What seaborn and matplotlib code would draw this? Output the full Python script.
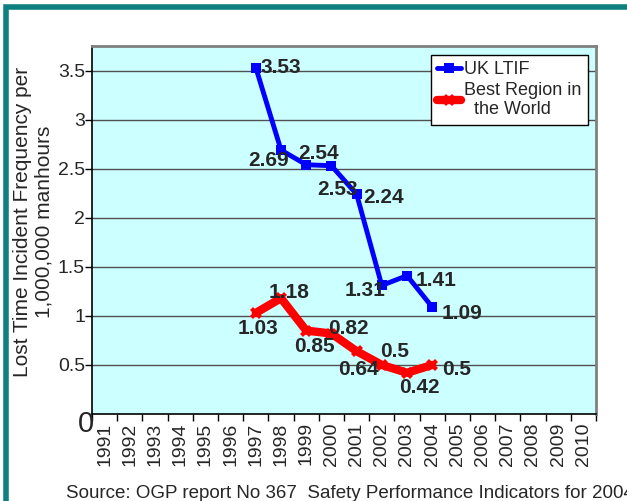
import matplotlib
matplotlib.use('Agg')
import matplotlib.pyplot as plt
import seaborn as sns
import pandas as pd
from matplotlib.patches import Rectangle

years = [str(y) for y in range(1991, 2011)]
uk_years = ['1997', '1998', '1999', '2000', '2001', '2002', '2003', '2004']
uk_ltif = [3.53, 2.69, 2.54, 2.53, 2.24, 1.31, 1.41, 1.09]
best_region = [1.03, 1.18, 0.85, 0.82, 0.64, 0.5, 0.42, 0.5]

# label offsets in pixels (dx, dy), dy measured downward
uk_offsets = [(25, 0), (-12, 10), (12, -11), (6, 24), (27, 3), (-17, 5), (29, 5), (30, 6)]
best_offsets = [(2, 16), (8, -6), (8, 16), (17, -5), (2, 18), (13, -13), (12, 15), (24, 5)]

sns.set_style('white')
plt.rcParams['font.family'] = ['Liberation Sans', 'DejaVu Sans']

fig = plt.figure(figsize=(6.27, 5.01), dpi=100)
ax = fig.add_axes([92 / 627, 1 - 414 / 501, (596 - 92) / 627, (414 - 46) / 501])
ax.set_facecolor('#ccffff')

pos = {y: i for i, y in enumerate(years)}
df = pd.DataFrame({'x': [pos[y] for y in uk_years], 'uk': uk_ltif, 'best': best_region})

sns.lineplot(data=df, x='x', y='uk', ax=ax, color='#0000ff', lw=3.5,
             marker='s', markersize=7, markeredgewidth=0, label='UK LTIF', zorder=4)
sns.lineplot(data=df, x='x', y='best', ax=ax, color='#ff0000', lw=6,
             marker='X', markersize=9, markeredgewidth=0,
             label='Best Region in\n  the World', zorder=3)

for xv, v, (dx, dy) in zip(df['x'], uk_ltif, uk_offsets):
    ax.annotate(f'{v:g}', (xv, v), xytext=(dx, -dy), textcoords='offset pixels',
                ha='center', va='center', fontsize=15, fontweight='bold', zorder=6)
for xv, v, (dx, dy) in zip(df['x'], best_region, best_offsets):
    ax.annotate(f'{v:g}', (xv, v), xytext=(dx, -dy), textcoords='offset pixels',
                ha='center', va='center', fontsize=15, fontweight='bold', zorder=6)

ax.set_xlim(-0.5, len(years) - 0.5)
ax.set_ylim(0, 3.75)
ax.set_xticks(range(len(years)))
ax.set_xticklabels(years, rotation=90, fontsize=14)
ax.set_xticks([i - 0.5 for i in range(len(years) + 1)], minor=True)
ax.tick_params(axis='x', which='major', length=0, pad=6)
ax.tick_params(axis='x', which='minor', length=5, width=1, color='black', direction='out', bottom=True)
yt = [0.5, 1, 1.5, 2, 2.5, 3, 3.5]
ax.set_yticks(yt)
ax.set_yticklabels([f'{v:g}' for v in yt], fontsize=14)
ax.tick_params(axis='y', length=5, width=1, color='black', direction='out', left=True, pad=0)
ax.grid(axis='y', color='#505050', lw=1)
ax.set_axisbelow(True)
ax.set_xlabel('')
ax.set_ylabel('Lost Time Incident Frequency per\n1,000,000 manhours', fontsize=15,
              linespacing=1.15)
ax.yaxis.set_label_coords(-(92 - 53) / 504, (414 - 222) / 368)

for s in ['left', 'bottom']:
    ax.spines[s].set_color('black')
    ax.spines[s].set_linewidth(1.2)
for s in ['top', 'right']:
    ax.spines[s].set_color('#808080')
    ax.spines[s].set_linewidth(2)

fig.text(86 / 627, 1 - 424 / 501, '0', fontsize=21, ha='center', va='center')

leg = ax.legend(loc='upper right', bbox_to_anchor=(0.984, 0.976), fontsize=13,
                frameon=True, fancybox=False, handlelength=1.3, handletextpad=0.2,
                borderpad=0.35, labelspacing=0.2, borderaxespad=0)
leg.get_frame().set_edgecolor('black')
leg.get_frame().set_linewidth(1)
leg.get_frame().set_facecolor('white')
leg.get_frame().set_alpha(1)

fig.patches.append(Rectangle((6 / 627, -0.1), 1.2, 1 - 7 / 501 + 0.1, transform=fig.transFigure,
                             fill=False, edgecolor='#0e8080', lw=4, zorder=0))

# the source line runs past the right edge in the original as well
fig.text(66 / 627, 1 - 493 / 501, 'Source: OGP report No 367  Safety Performance Indicators for 2004',
         fontsize=13.5, ha='left', va='center')

fig.savefig('out.png', dpi=100)
